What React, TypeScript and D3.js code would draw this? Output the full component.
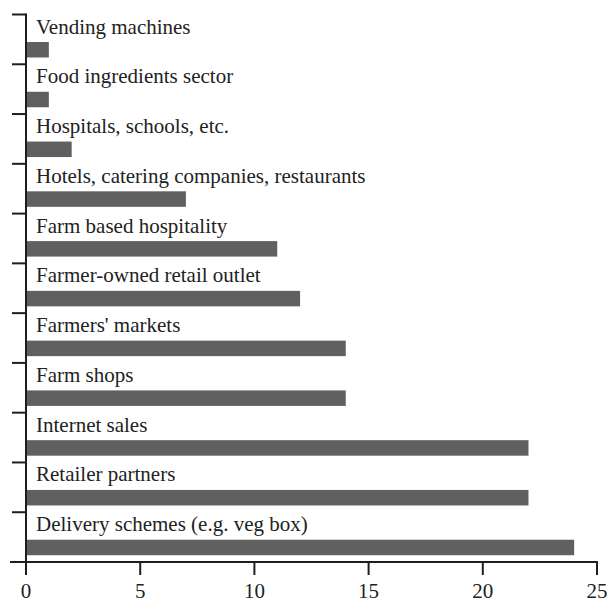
import React, { useEffect, useRef } from 'react';
import * as d3 from 'd3';

const categories = [
  'Vending machines',
  'Food ingredients sector',
  'Hospitals, schools, etc.',
  'Hotels, catering companies, restaurants',
  'Farm based hospitality',
  'Farmer-owned retail outlet',
  "Farmers' markets",
  'Farm shops',
  'Internet sales',
  'Retailer partners',
  'Delivery schemes (e.g. veg box)',
];
const values = [1, 1, 2, 7, 11, 12, 14, 14, 22, 22, 24];
const xTicks = [0, 5, 10, 15, 20, 25];

const App = () => {
  const svgRef = useRef<SVGSVGElement>(null);

  useEffect(() => {
    const svg = d3.select(svgRef.current);
    svg.selectAll('*').remove();

    const left = 26, right = 597, top = 14.5, bottom = 562;
    const font = '"Liberation Serif", "Times New Roman", serif';
    const axisColor = '#1e1e1e';

    const x = d3.scaleLinear().domain([0, 25]).range([left, right]);
    const y = d3.scaleBand().domain(categories).range([top, bottom]);
    const step = y.step();

    // bars
    svg.selectAll('rect.bar')
      .data(categories)
      .enter()
      .append('rect')
      .attr('class', 'bar')
      .attr('x', x(0))
      .attr('y', d => y(d)! + 27.5)
      .attr('width', (d, i) => x(values[i]) - x(0))
      .attr('height', 15.5)
      .attr('fill', '#606061');

    // labels above each bar
    svg.selectAll('text.label')
      .data(categories)
      .enter()
      .append('text')
      .attr('class', 'label')
      .attr('x', 36)
      .attr('y', d => y(d)! + 19)
      .style('font-family', font)
      .style('font-size', '21px')
      .attr('fill', '#222')
      .text(d => d);

    // y axis
    svg.append('line')
      .attr('x1', left).attr('x2', left)
      .attr('y1', top - 1).attr('y2', bottom)
      .attr('stroke', axisColor).attr('stroke-width', 2);
    svg.selectAll('line.ytick')
      .data(d3.range(categories.length))
      .enter()
      .append('line')
      .attr('class', 'ytick')
      .attr('x1', 12).attr('x2', left)
      .attr('y1', i => top + i * step).attr('y2', i => top + i * step)
      .attr('stroke', axisColor).attr('stroke-width', 2);

    // x axis
    const gx = svg.append('g').attr('transform', `translate(0,${bottom})`);
    gx.append('line')
      .attr('x1', 10).attr('x2', right + 1)
      .attr('stroke', axisColor).attr('stroke-width', 2);
    gx.selectAll('line.xtick')
      .data(xTicks)
      .enter()
      .append('line')
      .attr('x1', d => x(d)).attr('x2', d => x(d))
      .attr('y1', 0).attr('y2', 13)
      .attr('stroke', axisColor).attr('stroke-width', 2);
    gx.selectAll('text.xlabel')
      .data(xTicks)
      .enter()
      .append('text')
      .attr('x', d => x(d))
      .attr('y', 36)
      .attr('text-anchor', 'middle')
      .style('font-family', font)
      .style('font-size', '21px')
      .attr('fill', '#222')
      .text(d => d);
  }, []);

  return (
    <svg ref={svgRef} width={608} height={603} style={{ position: 'absolute', left: 0, top: 0 }} />
  );
};

export default App;
